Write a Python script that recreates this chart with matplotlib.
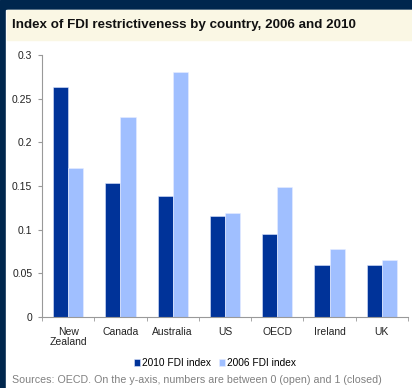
import numpy as np
import matplotlib.pyplot as plt
from matplotlib.patches import Rectangle

plt.rcParams['font.family'] = ['Liberation Sans', 'DejaVu Sans']

countries = ['New\nZealand', 'Canada', 'Australia', 'US', 'OECD', 'Ireland', 'UK']
fdi_2010 = [0.263, 0.153, 0.138, 0.116, 0.095, 0.059, 0.059]
fdi_2006 = [0.171, 0.229, 0.281, 0.119, 0.149, 0.078, 0.065]

dark = '#003399'
light = '#a0bfff'
navy = '#00264d'

fig = plt.figure(figsize=(4.12, 3.88), dpi=100)
fig.patch.set_facecolor('white')

# frame: navy border on top and left, yellow title band
fig.add_artist(Rectangle((0, 0), 1, 1, transform=fig.transFigure, color=navy, zorder=-3))
fig.add_artist(Rectangle((6 / 412, 0), 1, (388 - 10) / 388, transform=fig.transFigure,
                         color='white', zorder=-2))
fig.add_artist(Rectangle((7 / 412, (388 - 40) / 388), 1, 30 / 388, transform=fig.transFigure,
                         color='#faf7e4', zorder=-1))
fig.text(12 / 412, (388 - 25) / 388, 'Index of FDI restrictiveness by country, 2006 and 2010',
         fontsize=9.6, fontweight='bold', va='center', ha='left', color='#111111')

ax = fig.add_axes([42 / 412, 71 / 388, 366 / 412, 262 / 388])
x = np.arange(len(countries))
w = 0.29
ax.bar(x - w / 2, fdi_2010, w, color=dark, edgecolor='#dde6ff', linewidth=0.4, label='2010 FDI index')
ax.bar(x + w / 2, fdi_2006, w, color=light, edgecolor='#e8eeff', linewidth=0.4, label='2006 FDI index')

ax.set_xlim(-0.5, len(countries) - 0.5)
ax.set_ylim(0, 0.3)
ax.set_yticks([0, 0.05, 0.1, 0.15, 0.2, 0.25, 0.3])
ax.set_yticklabels(['0', '0.05', '0.1', '0.15', '0.2', '0.25', '0.3'])
ax.set_xticks(x)
ax.set_xticklabels(countries, linespacing=1.0)
ax.set_xticks(np.arange(-0.5, len(countries)), minor=True)
ax.tick_params(axis='x', which='major', length=0, pad=7, labelsize=7.5, colors='#222222')
ax.tick_params(axis='x', which='minor', length=3, color='#999999')
ax.tick_params(axis='y', length=3, color='#999999', labelsize=7.5, labelcolor='#222222', pad=4)
for s in ['top', 'right']:
    ax.spines[s].set_visible(False)
for s in ['left', 'bottom']:
    ax.spines[s].set_color('#999999')
    ax.spines[s].set_linewidth(0.8)

ax.legend(loc='center', bbox_to_anchor=(215 / 412, 25 / 388), bbox_transform=fig.transFigure,
          ncol=2, frameon=False, fontsize=7.3, handlelength=0.6, handleheight=0.6,
          handletextpad=0.15, columnspacing=0.8)

fig.text(12 / 412, 8 / 388, 'Sources: OECD. On the y-axis, numbers are between 0 (open) and 1 (closed)',
         fontsize=7.7, color='#808080', va='center', ha='left')

fig.savefig('out.png', dpi=100)
